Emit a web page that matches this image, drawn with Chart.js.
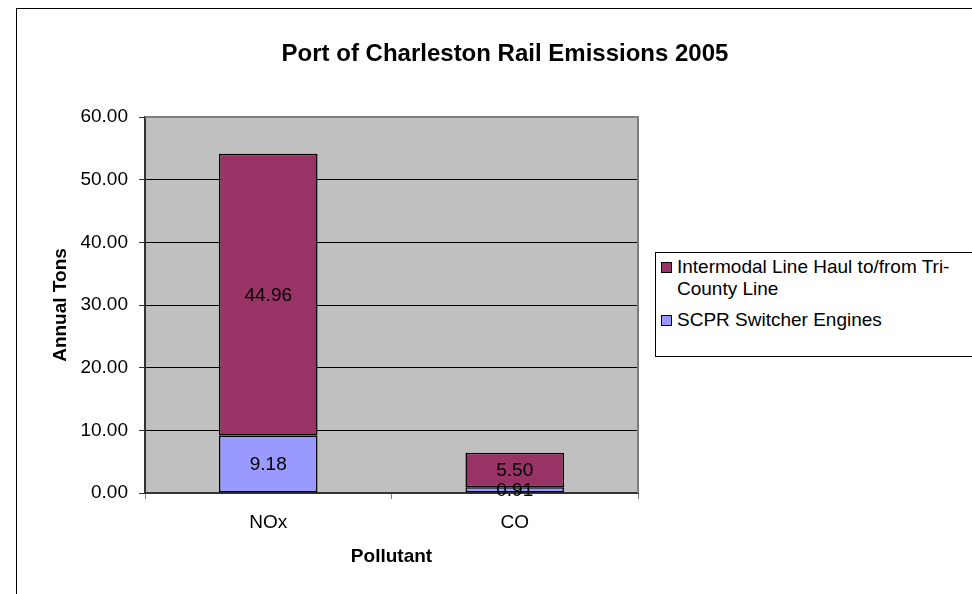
<!DOCTYPE html>
<html>
<head>
<meta charset="utf-8">
<title>Port of Charleston Rail Emissions 2005</title>
<script src="https://cdn.jsdelivr.net/npm/chart.js@4/dist/chart.umd.min.js"></script>
<style>
  body { margin: 0; background: #fff; font-family: 'Liberation Sans', Arial, sans-serif; }
  #wrap { position: relative; width: 972px; height: 594px; overflow: hidden; }
  #legend { position: absolute; left: 655px; top: 252px; width: 340px; height: 103px;
            border: 1px solid #000; background: #fff; font-size: 19px; color: #000; }
  .item { position: absolute; left: 21px; line-height: 22px; white-space: nowrap; }
  .sw { position: absolute; left: 5px; width: 9px; height: 9px; border: 1px solid #000; }
</style>
</head>
<body>
<div id="wrap">
  <canvas id="emissionsChart" width="972" height="594"></canvas>
  <div id="legend">
    <span class="sw" style="top:9px;background:#993366"></span>
    <div class="item" style="top:3px">Intermodal Line Haul to/from Tri-<br>County Line</div>
    <span class="sw" style="top:62px;background:#9999FF"></span>
    <div class="item" style="top:56px">SCPR Switcher Engines</div>
  </div>
</div>
<script>
const categories = ['NOx', 'CO'];
const switcherEngines = [9.18, 0.91];
const lineHaul = [44.96, 5.50];
const yTicks = [0, 10, 20, 30, 40, 50, 60];

const FONT = "'Liberation Sans', Arial, sans-serif";

// gray plot area, outer frame, title, borders
const frame = {
    id: 'frame',
    beforeDraw(chart) {
        const {ctx, chartArea: a} = chart;
        ctx.save();
        ctx.fillStyle = '#C0C0C0';
        ctx.fillRect(a.left, a.top, a.right - a.left, a.bottom - a.top);
        ctx.strokeStyle = '#000';
        ctx.lineWidth = 1;
        ctx.strokeRect(16.5, 8.5, 1200, 1200);
        ctx.restore();
    },
    afterDraw(chart) {
        const {ctx, chartArea: a} = chart;
        ctx.save();
        ctx.strokeStyle = '#808080';
        ctx.lineWidth = 2;
        ctx.beginPath();
        ctx.moveTo(a.left, a.top);
        ctx.lineTo(a.right, a.top);
        ctx.lineTo(a.right, a.bottom);
        ctx.stroke();
        ctx.fillStyle = '#000';
        ctx.font = 'bold 24px ' + FONT;
        ctx.textAlign = 'center';
        ctx.textBaseline = 'middle';
        ctx.fillText('Port of Charleston Rail Emissions 2005', 505, 54);
        ctx.restore();
    }
};

// value labels in the middle of each segment
const segLabels = {
    id: 'segLabels',
    afterDatasetsDraw(chart) {
        const {ctx} = chart;
        ctx.save();
        ctx.fillStyle = '#000';
        ctx.font = '19px ' + FONT;
        ctx.textAlign = 'center';
        ctx.textBaseline = 'middle';
        chart.data.datasets.forEach((ds, i) => {
            chart.getDatasetMeta(i).data.forEach((bar, j) => {
                const p = bar.getProps(['x', 'y', 'base'], true);
                ctx.fillText(ds.data[j].toFixed(2), p.x, (p.y + p.base) / 2 + 1);
            });
        });
        ctx.restore();
    }
};

const ctx = document.getElementById('emissionsChart').getContext('2d');
const emissionsChart = new Chart(ctx, {
    type: 'bar',
    data: {
        labels: categories,
        datasets: [{
            label: 'SCPR Switcher Engines',
            data: switcherEngines,
            backgroundColor: '#9999FF',
            borderColor: '#000',
            borderWidth: 1.5,
            borderSkipped: false
        }, {
            label: 'Intermodal Line Haul to/from Tri-County Line',
            data: lineHaul,
            backgroundColor: '#993366',
            borderColor: '#000',
            borderWidth: 1.5,
            borderSkipped: false
        }]
    },
    options: {
        responsive: false,
        animation: false,
        categoryPercentage: 1,
        barPercentage: 0.4,
        layout: { padding: { left: 0, top: 117, right: 334, bottom: 0 } },
        plugins: {
            legend: { display: false },
            title: { display: false },
            tooltip: { enabled: false }
        },
        scales: {
            x: {
                stacked: true,
                afterFit: s => { s.height = 101; },
                grid: { offset: true, drawOnChartArea: false, tickLength: 6, color: '#808080' },
                border: { color: '#333', width: 2 },
                ticks: { color: '#000', font: { family: FONT, size: 19 }, padding: 12 },
                title: { display: true, text: 'Pollutant', color: '#000',
                         font: { family: FONT, size: 19, weight: 'bold' }, padding: { top: 0, bottom: 26 } }
            },
            y: {
                stacked: true,
                min: 0,
                max: 60,
                afterFit: s => { s.width = 145; },
                afterBuildTicks: s => { s.ticks = yTicks.map(v => ({ value: v })); },
                grid: {
                    color: c => c.tick && c.tick.value === 60 ? '#808080' : '#000',
                    tickColor: '#333',
                    tickLength: 6
                },
                border: { color: '#333', width: 2 },
                ticks: { color: '#000', font: { family: FONT, size: 19 }, padding: 11,
                         callback: v => Number(v).toFixed(2) },
                title: { display: true, text: 'Annual Tons', color: '#000',
                         font: { family: FONT, size: 19, weight: 'bold' }, padding: { top: 49, bottom: 0 } }
            }
        }
    },
    plugins: [frame, segLabels]
});
</script>
</body>
</html>
